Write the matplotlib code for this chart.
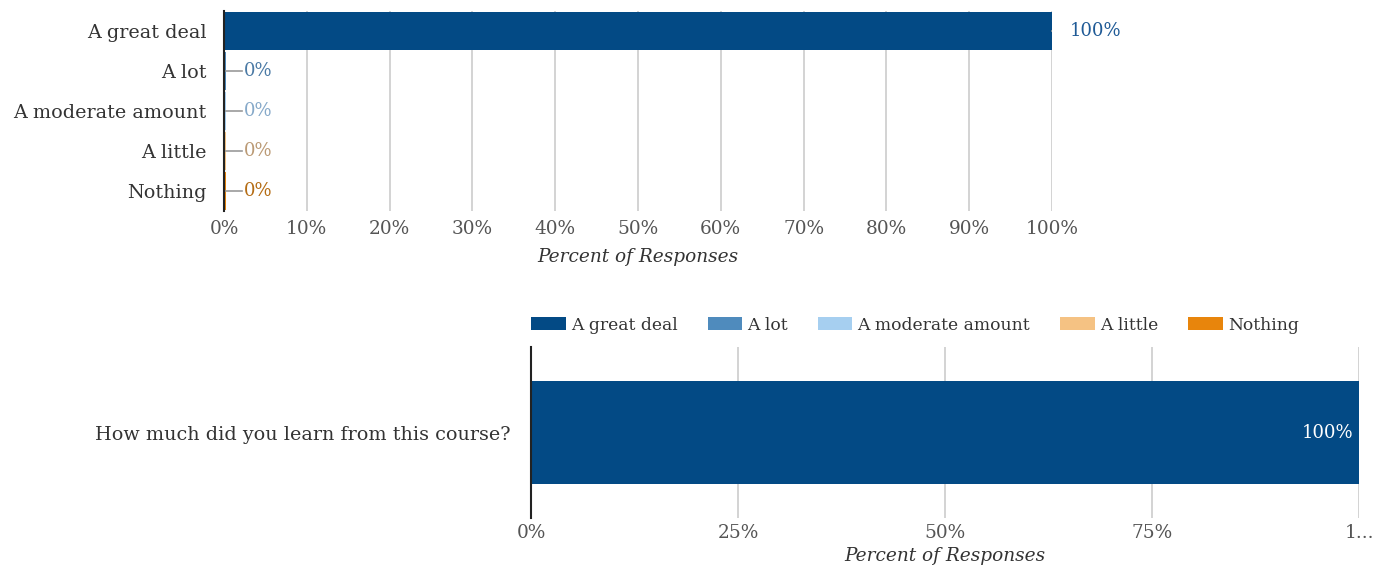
import matplotlib.pyplot as plt
from matplotlib.patches import Patch

plt.rcParams['font.family'] = 'DejaVu Serif'

categories = ['A great deal', 'A lot', 'A moderate amount', 'A little', 'Nothing']
percents = [100, 0, 0, 0, 0]
colors = ['#034a85', '#4f8bbd', '#a6cff0', '#f5c283', '#e8850c']
label_colors = ['#1f5a96', '#4b7aa5', '#86a9c9', '#bb9a75', '#b56d15']
top_ticks = list(range(0, 101, 10))

question = 'How much did you learn from this course?'
bottom_ticks = [0, 25, 50, 75, 100]
bottom_tick_labels = ['0%', '25%', '50%', '75%', '1...']

W, H = 1376, 567
fig = plt.figure(figsize=(W / 100, H / 100), dpi=100)


def px_axes(left, top, right, bottom):
    return fig.add_axes([left / W, 1 - bottom / H, (right - left) / W, (bottom - top) / H])


text_col = '#333333'
tick_col = '#555555'
grid_col = '#cccccc'
fs_cat = 13.8
fs_tick = 13.3
fs_val = 13

# --- top chart: horizontal bars per category
ax = px_axes(224, 11, 1052, 211)
ypos = list(range(len(categories)))
ax.barh(ypos, percents, height=0.95, color=colors, zorder=2)
# thin stubs for the zero bars
for y, v, c in zip(ypos, percents, colors):
    if v == 0:
        ax.barh(y, 0.25, height=0.95, color=c, zorder=2)

for y, v, c in zip(ypos, percents, label_colors):
    if v == 0:
        ax.plot([0.3, 2.2], [y, y], color='#999999', lw=1.2, zorder=3)
        ax.text(2.4, y, f'{v}%', color=c, va='center', ha='left', fontsize=fs_val)
    else:
        ax.plot([v, v + 0.5], [y, y], color='#999999', lw=1.2, zorder=3)
        ax.text(v + 2.2, y, f'{v}%', color=c, va='center', ha='left', fontsize=fs_val)

ax.set_xlim(0, 100)
ax.set_ylim(len(categories) - 0.5, -0.5)
ax.set_yticks(ypos)
ax.set_yticklabels(categories, fontsize=fs_cat, color=text_col)
ax.set_xticks(top_ticks)
ax.set_xticklabels([f'{t}%' for t in top_ticks], fontsize=fs_tick, color=tick_col)
ax.tick_params(axis='both', length=0)
ax.tick_params(axis='y', pad=12.5)
ax.tick_params(axis='x', pad=6.5)
ax.grid(axis='x', color=grid_col, lw=1.2, zorder=0)
for s in ['top', 'right', 'bottom']:
    ax.spines[s].set_visible(False)
ax.spines['left'].set_color('#222222')
ax.spines['left'].set_linewidth(1.5)
ax.spines['left'].set_zorder(4)
ax.set_xlabel('Percent of Responses', fontstyle='italic', fontsize=fs_tick, color=text_col, labelpad=7)

# --- bottom chart: stacked bar
ax2 = px_axes(531, 347, 1359, 518)
left = 0
for name, v, c in zip(categories, percents, colors):
    ax2.barh(0, v if v > 0 else 0.2, left=left, height=0.6, color=c, zorder=2, label=name)
    if v > 0:
        ax2.text(left + v - 0.7, 0, f'{v}%', color='white', ha='right', va='center', fontsize=fs_val)
    left += v

ax2.set_xlim(0, 100)
ax2.set_ylim(-0.5, 0.5)
ax2.set_yticks([0])
ax2.set_yticklabels([question], fontsize=fs_cat, color=text_col)
ax2.set_xticks(bottom_ticks)
ax2.set_xticklabels(bottom_tick_labels, fontsize=fs_tick, color=tick_col)
ax2.tick_params(axis='both', length=0)
ax2.tick_params(axis='y', pad=14.5)
ax2.tick_params(axis='x', pad=4)
ax2.grid(axis='x', color=grid_col, lw=1.2, zorder=0)
for s in ['top', 'right', 'bottom']:
    ax2.spines[s].set_visible(False)
ax2.spines['left'].set_color('#222222')
ax2.spines['left'].set_linewidth(1.5)
ax2.spines['left'].set_zorder(4)
ax2.set_xlabel('Percent of Responses', fontstyle='italic', fontsize=fs_tick, color=text_col, labelpad=4)

handles = [Patch(facecolor=c, edgecolor='none') for c in colors]
fig.legend(handles, categories, loc='center left', bbox_to_anchor=(516 / W, 1 - 325 / H),
           ncol=5, frameon=False, fontsize=12.3, handlelength=2.0, handleheight=0.85,
           handletextpad=0.3, columnspacing=1.78, labelcolor=text_col)

fig.savefig('out.png', dpi=100)
